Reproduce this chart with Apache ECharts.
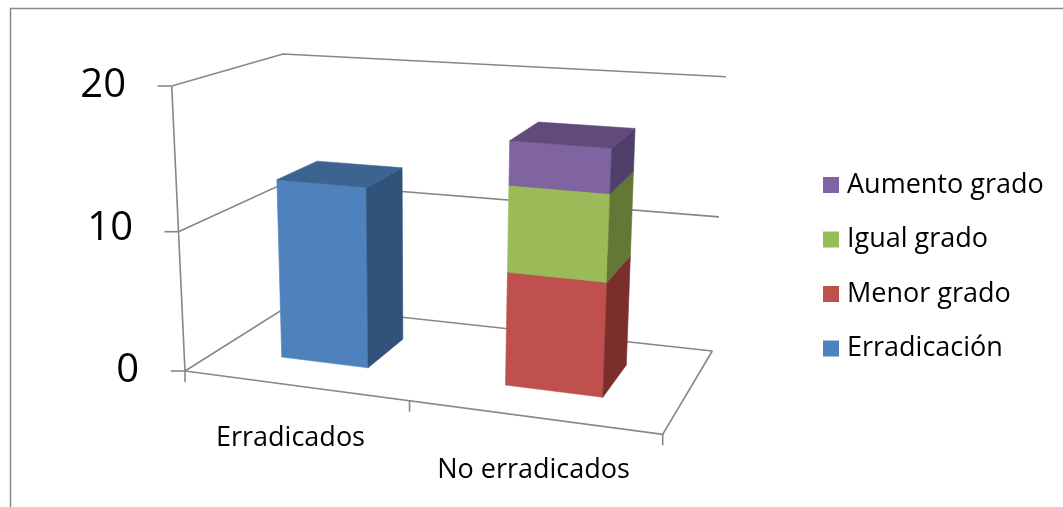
<!DOCTYPE html>
<html>
<head>
<meta charset="utf-8">
<script src="https://cdn.jsdelivr.net/npm/echarts@6/dist/echarts.min.js"></script>
<style>
  html, body { margin: 0; padding: 0; background: #fff; }
  #chart { width: 1063px; height: 507px; }
</style>
</head>
<body>
<div id="chart"></div>
<script>
  // datos
  var categories = ['Erradicados', 'No erradicados'];
  var erradicacion = [13, 0];
  var menorGrado = [0, 8];
  var igualGrado = [0, 6];
  var aumentoGrado = [0, 3];
  var yTicks = [0, 10, 20];

  var seriesNames = ['Erradicación', 'Menor grado', 'Igual grado', 'Aumento grado'];
  var seriesValues = [erradicacion, menorGrado, igualGrado, aumentoGrado];
  var legendOrder = ['Aumento grado', 'Igual grado', 'Menor grado', 'Erradicación'];

  // colores: frente, tapa, lateral
  var palette = {
    'Erradicación': ['#4F81BD', '#3D6491', '#31527A'],
    'Menor grado': ['#C0504D', '#943E3B', '#7A2F2D'],
    'Igual grado': ['#9BBB59', '#779044', '#637737'],
    'Aumento grado': ['#8064A2', '#604B7C', '#513F6B']
  };

  // "camara" 3D: esquinas de la caja en pantalla (frente/fondo, izq/der, 0/max)
  var cube = {
    fl0: [185, 371], fl1: [171.7, 86], fr0: [662.7, 434.3], fr1: [678, 123],
    bl0: [289.7, 305], bl1: [283, 54], br0: [712.3, 351], br1: [726, 76.7]
  };
  var perspU = -0.113, perspV = -0.0438;
  var barRatio = 0.4, depthFront = 0.33, depthBack = 0.73;
  var lineColor = '#878787';

  function warp(t, k) { return t * (1 + k) / (1 + k * t); }
  function lerp(a, b, t) { return [a[0] + (b[0] - a[0]) * t, a[1] + (b[1] - a[1]) * t]; }
  function project(u, v, w) {
    u = warp(u, perspU);
    v = warp(v, perspV);
    var f = lerp(lerp(cube.fl0, cube.fr0, u), lerp(cube.fl1, cube.fr1, u), v);
    var b = lerp(lerp(cube.bl0, cube.br0, u), lerp(cube.bl1, cube.br1, u), v);
    return lerp(f, b, w);
  }
  function toUV(cs, pt) {
    return [(pt[0] - cs.x) / cs.width, (cs.y + cs.height - pt[1]) / cs.height];
  }
  function line(points, width) {
    return { type: 'polyline', shape: { points: points }, style: { stroke: lineColor, lineWidth: width || 1.6, fill: null } };
  }

  // paredes, piso y lineas de division
  function renderFrame(params, api) {
    var cs = params.coordSys;
    var v = toUV(cs, api.coord([0, api.value(1)]))[1];
    var kids = [];
    kids.push(line([project(0, v, 0), project(0, v, 1), project(1, v, 1)]));
    var p = project(0, v, 0);
    kids.push(line([[p[0] - 14, p[1]], p]));
    if (params.dataIndex === 0) {
      kids.push(line([project(0, 0, 0), project(0, 1, 0)]));
      kids.push(line([project(0, 0, 0), project(1, 0, 0), project(1, 0, 1)]));
      var band = api.size([1, 0])[0];
      for (var i = 0; i <= categories.length; i++) {
        var x = api.coord([Math.min(i, categories.length - 1), 0])[0] + (i < categories.length ? -band / 2 : band / 2);
        var q = project((x - cs.x) / cs.width, 0, 0);
        kids.push(line([q, [q[0], q[1] + 11]]));
      }
    }
    return { type: 'group', children: kids };
  }

  function renderBar(params, api) {
    var cs = params.coordSys;
    var cat = api.value(0);
    var a = api.coord([cat, api.value(1)]);
    var b = api.coord([cat, api.value(2)]);
    var half = api.size([1, 0])[0] * barRatio / 2;
    var uL = (a[0] - half - cs.x) / cs.width;
    var uR = (a[0] + half - cs.x) / cs.width;
    var v0 = toUV(cs, a)[1], v1 = toUV(cs, b)[1];
    var w0 = depthFront, w1 = depthBack;
    var col = palette[params.seriesName];
    function face(pts, c) {
      return { type: 'polygon', shape: { points: pts }, style: { fill: c, stroke: c, lineWidth: 0.6 } };
    }
    return {
      type: 'group',
      children: [
        face([project(uL, v0, w0), project(uR, v0, w0), project(uR, v1, w0), project(uL, v1, w0)], col[0]),
        face([project(uR, v0, w0), project(uR, v0, w1), project(uR, v1, w1), project(uR, v1, w0)], col[2]),
        face([project(uL, v1, w0), project(uR, v1, w0), project(uR, v1, w1), project(uL, v1, w1)], col[1])
      ]
    };
  }

  var chart = echarts.init(document.getElementById('chart'));

  var series = [{
    name: 'marco',
    type: 'custom',
    silent: true,
    clip: false,
    renderItem: renderFrame,
    data: yTicks.map(function (v) { return [0, v]; })
  }];

  var base = categories.map(function () { return 0; });
  seriesNames.forEach(function (name, s) {
    var data = [];
    seriesValues[s].forEach(function (val, i) {
      if (val > 0) data.push([i, base[i], base[i] + val]);
      base[i] += val;
    });
    series.push({
      name: name,
      type: 'custom',
      clip: false,
      itemStyle: { color: palette[name][0] },
      renderItem: renderBar,
      data: data
    });
  });

  chart.setOption({
    animation: false,
    graphic: [{
      type: 'rect',
      shape: { x: 10.5, y: 8.5, width: 1100, height: 600 },
      style: { fill: null, stroke: '#8A8A8A', lineWidth: 1.5 },
      silent: true
    }],
    legend: {
      data: legendOrder,
      orient: 'vertical',
      left: 818,
      top: 165,
      icon: 'rect',
      itemWidth: 16,
      itemHeight: 16,
      itemGap: 24.5,
      selectedMode: false,
      textStyle: {
        fontFamily: 'Open Sans',
        fontSize: 27,
        lineHeight: 30,
        color: '#000',
        padding: [0, 0, 0, 3]
      }
    },
    grid: {
      left: 178,
      top: 86,
      width: 486,
      height: 285,
      containLabel: false,
      outerBoundsMode: 'none'
    },
    xAxis: {
      type: 'category',
      data: categories,
      axisLine: { show: false },
      axisTick: { show: false },
      splitLine: { show: false },
      axisLabel: {
        interval: 0,
        margin: 51,
        fontFamily: 'Open Sans',
        fontSize: 27,
        lineHeight: 32,
        color: '#000',
        padding: [0, 18, 0, 0],
        formatter: function (v, i) { return i % 2 ? '\n' + v : v; }
      }
    },
    yAxis: {
      type: 'value',
      min: 0,
      max: 20,
      interval: 10,
      axisLine: { show: false },
      axisTick: { show: false },
      splitLine: { show: false },
      axisLabel: {
        margin: 39,
        fontFamily: 'Open Sans',
        fontSize: 40,
        color: '#000',
        formatter: function (v) { return '{p' + v + '|' + v + '}'; },
        rich: {
          p0: { fontFamily: 'Open Sans', fontSize: 40, padding: [0, 0, 0, 0] },
          p10: { fontFamily: 'Open Sans', fontSize: 40, padding: [0, 6, 0, 0] },
          p20: { fontFamily: 'Open Sans', fontSize: 40, padding: [0, 13, 0, 0] }
        }
      }
    },
    series: series
  });
</script>
</body>
</html>
